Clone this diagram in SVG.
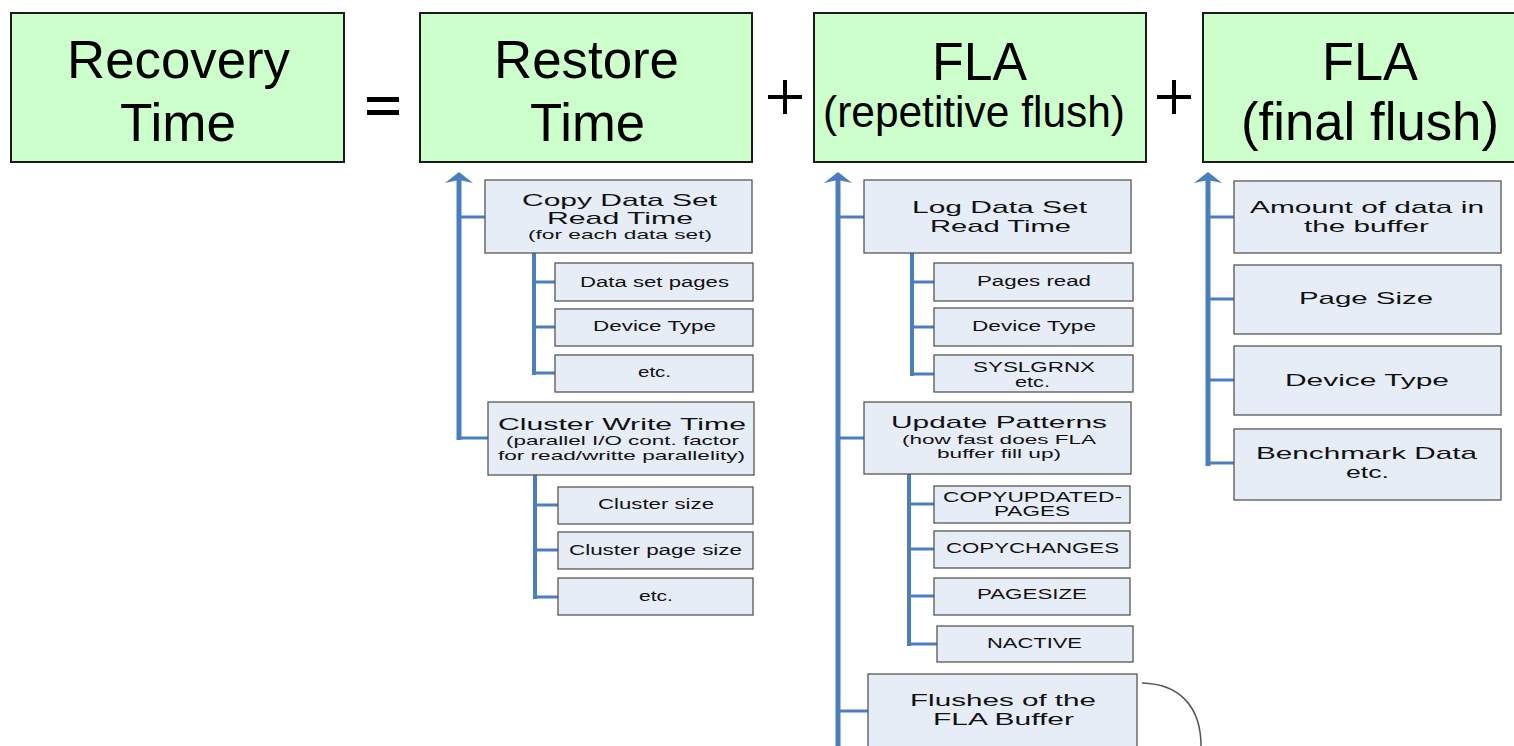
<svg xmlns="http://www.w3.org/2000/svg" width="1514" height="746" viewBox="0 0 1514 746">
<style>
text{font-family:"Liberation Sans",Arial,sans-serif;fill:#000}
.big{font-size:54px}
.mid{font-size:44px}
.h{font-size:17px;fill:#111}
.s{font-size:13px;fill:#111}
.t{font-size:14px;fill:#111}
.eq{fill:#000}
.top rect{fill:#ccffcc;stroke:#1a1a1a;stroke-width:2}
.box rect{fill:#e7edf7;stroke:#555;stroke-width:1.3}
.trunk{fill:none;stroke:#4a7ebf;stroke-width:5}
.br{fill:none;stroke:#4a7ebf;stroke-width:3}
.sub{fill:none;stroke:#4a7ebf;stroke-width:4}
.curve{fill:none;stroke:#555;stroke-width:1.5}
</style>
<defs>
<marker id="ah" markerUnits="userSpaceOnUse" viewBox="0 -14 11 28" markerWidth="11" markerHeight="28" refX="3" refY="0" orient="auto">
<path d="M11,0 L0,-14 L3,0 L0,14 Z" fill="#4a7ebf"/>
</marker>
</defs>
<rect width="1514" height="746" fill="#fff"/>

<g id="recovery" class="top">
<rect x="11" y="13" width="333" height="149"/>
<text class="big" x="67" y="78" textLength="223" lengthAdjust="spacingAndGlyphs">Recovery</text>
<text class="big" x="120" y="141" textLength="116" lengthAdjust="spacingAndGlyphs">Time</text>
</g>
<g id="equals" class="eq">
<rect x="367" y="97" width="32" height="5"/>
<rect x="367" y="110" width="32" height="5"/>
</g>
<g id="restore" class="top">
<rect x="420" y="13" width="332" height="149"/>
<text class="big" x="494" y="78" textLength="185" lengthAdjust="spacingAndGlyphs">Restore</text>
<text class="big" x="530" y="141" textLength="115" lengthAdjust="spacingAndGlyphs">Time</text>
</g>
<g id="plus1" class="eq">
<rect x="768" y="95" width="34" height="4"/>
<rect x="783" y="80" width="4" height="34"/>
</g>
<g id="fla-rep" class="top">
<rect x="814" y="13" width="332" height="149"/>
<text class="big" x="932" y="80" textLength="95" lengthAdjust="spacingAndGlyphs">FLA</text>
<text class="mid" x="823" y="127" textLength="302" lengthAdjust="spacingAndGlyphs">(repetitive flush)</text>
</g>
<g id="plus2" class="eq">
<rect x="1157" y="95" width="34" height="4"/>
<rect x="1172" y="80" width="4" height="34"/>
</g>
<g id="fla-final" class="top">
<rect x="1203" y="13" width="333" height="149"/>
<text class="big" x="1322" y="80" textLength="96" lengthAdjust="spacingAndGlyphs">FLA</text>
<text class="big" x="1241" y="140" textLength="258" lengthAdjust="spacingAndGlyphs">(final flush)</text>
</g>

<g id="connectors">
<path class="trunk" d="M459 440 V180" marker-end="url(#ah)"/>
<path class="br" d="M459 217 H485"/>
<path class="br" d="M457 438 H488"/>
<path class="sub" d="M534 253 V375"/>
<path class="br" d="M534 282 H555 M534 327 H555 M532 373 H555"/>
<path class="sub" d="M535 475 V599"/>
<path class="br" d="M535 505 H558 M535 550 H558 M533 597 H558"/>

<path class="trunk" d="M838 746 V180" marker-end="url(#ah)"/>
<path class="br" d="M838 217 H864 M838 438 H864 M838 711 H868"/>
<path class="sub" d="M912 253 V376"/>
<path class="br" d="M912 282 H934 M912 327 H934 M910 374 H934"/>
<path class="sub" d="M909 474 V646"/>
<path class="br" d="M909 504 H934 M909 549 H934 M909 596 H934 M907 644 H937"/>
<path class="curve" d="M1142 683 C1181 684,1201 708,1201 746"/>

<path class="trunk" d="M1208 466 V180" marker-end="url(#ah)"/>
<path class="br" d="M1208 217 H1234 M1208 299 H1234 M1208 380 H1234 M1206 463 H1234"/>
</g>

<g id="copy-read" class="box">
<rect x="485" y="180" width="267" height="73"/>
<text class="h" x="522" y="206" textLength="195" lengthAdjust="spacingAndGlyphs">Copy Data Set</text>
<text class="h" x="547" y="224" textLength="146" lengthAdjust="spacingAndGlyphs">Read Time</text>
<text class="s" x="528" y="239" textLength="184" lengthAdjust="spacingAndGlyphs">(for each data set)</text>
</g>
<g id="ds-pages" class="box">
<rect x="555" y="263" width="198" height="38"/>
<text class="t" x="580" y="287" textLength="149" lengthAdjust="spacingAndGlyphs">Data set pages</text>
</g>
<g id="ds-device" class="box">
<rect x="555" y="309" width="198" height="37"/>
<text class="t" x="593" y="331" textLength="123" lengthAdjust="spacingAndGlyphs">Device Type</text>
</g>
<g id="ds-etc" class="box">
<rect x="555" y="355" width="198" height="37"/>
<text class="t" x="638" y="377" textLength="33" lengthAdjust="spacingAndGlyphs">etc.</text>
</g>
<g id="cluster-write" class="box">
<rect x="488" y="402" width="266" height="73"/>
<text class="h" x="498" y="430" textLength="248" lengthAdjust="spacingAndGlyphs">Cluster Write Time</text>
<text class="s" x="506" y="445" textLength="233" lengthAdjust="spacingAndGlyphs">(parallel I/O cont. factor</text>
<text class="s" x="498" y="460" textLength="247" lengthAdjust="spacingAndGlyphs">for read/writte parallelity)</text>
</g>
<g id="cl-size" class="box">
<rect x="558" y="487" width="195" height="37"/>
<text class="t" x="598" y="509" textLength="116" lengthAdjust="spacingAndGlyphs">Cluster size</text>
</g>
<g id="cl-page" class="box">
<rect x="558" y="532" width="195" height="37"/>
<text class="t" x="569" y="555" textLength="173" lengthAdjust="spacingAndGlyphs">Cluster page size</text>
</g>
<g id="cl-etc" class="box">
<rect x="558" y="578" width="195" height="37"/>
<text class="t" x="639" y="601" textLength="34" lengthAdjust="spacingAndGlyphs">etc.</text>
</g>

<g id="log-read" class="box">
<rect x="864" y="180" width="267" height="73"/>
<text class="h" x="912" y="213" textLength="175" lengthAdjust="spacingAndGlyphs">Log Data Set</text>
<text class="h" x="930" y="232" textLength="141" lengthAdjust="spacingAndGlyphs">Read Time</text>
</g>
<g id="log-pages" class="box">
<rect x="934" y="263" width="199" height="38"/>
<text class="t" x="977" y="286" textLength="114" lengthAdjust="spacingAndGlyphs">Pages read</text>
</g>
<g id="log-device" class="box">
<rect x="934" y="308" width="199" height="38"/>
<text class="t" x="972" y="331" textLength="124" lengthAdjust="spacingAndGlyphs">Device Type</text>
</g>
<g id="log-syslgrnx" class="box">
<rect x="934" y="355" width="199" height="37"/>
<text class="t" x="973" y="372" textLength="122" lengthAdjust="spacingAndGlyphs">SYSLGRNX</text>
<text class="t" x="1015" y="387" textLength="35" lengthAdjust="spacingAndGlyphs">etc.</text>
</g>
<g id="update-patterns" class="box">
<rect x="864" y="402" width="267" height="72"/>
<text class="h" x="891" y="428" textLength="216" lengthAdjust="spacingAndGlyphs">Update Patterns</text>
<text class="s" x="902" y="444" textLength="194" lengthAdjust="spacingAndGlyphs">(how fast does FLA</text>
<text class="s" x="937" y="458" textLength="124" lengthAdjust="spacingAndGlyphs">buffer fill up)</text>
</g>
<g id="copyupdated" class="box">
<rect x="934" y="486" width="196" height="37"/>
<text class="t" x="943" y="502" textLength="179" lengthAdjust="spacingAndGlyphs">COPYUPDATED-</text>
<text class="t" x="994" y="516" textLength="76" lengthAdjust="spacingAndGlyphs">PAGES</text>
</g>
<g id="copychanges" class="box">
<rect x="934" y="531" width="196" height="37"/>
<text class="t" x="946" y="553" textLength="173" lengthAdjust="spacingAndGlyphs">COPYCHANGES</text>
</g>
<g id="pagesize" class="box">
<rect x="934" y="578" width="196" height="37"/>
<text class="t" x="977" y="599" textLength="110" lengthAdjust="spacingAndGlyphs">PAGESIZE</text>
</g>
<g id="nactive" class="box">
<rect x="937" y="626" width="196" height="36"/>
<text class="t" x="987" y="648" textLength="95" lengthAdjust="spacingAndGlyphs">NACTIVE</text>
</g>
<g id="flushes" class="box">
<rect x="868" y="674" width="269" height="80"/>
<text class="h" x="910" y="706" textLength="186" lengthAdjust="spacingAndGlyphs">Flushes of the</text>
<text class="h" x="933" y="725" textLength="141" lengthAdjust="spacingAndGlyphs">FLA Buffer</text>
</g>

<g id="amount" class="box">
<rect x="1234" y="181" width="267" height="72"/>
<text class="h" x="1250" y="213" textLength="234" lengthAdjust="spacingAndGlyphs">Amount of data in</text>
<text class="h" x="1304" y="232" textLength="125" lengthAdjust="spacingAndGlyphs">the buffer</text>
</g>
<g id="page-size" class="box">
<rect x="1234" y="265" width="267" height="69"/>
<text class="h" x="1299" y="304" textLength="134" lengthAdjust="spacingAndGlyphs">Page Size</text>
</g>
<g id="device-type" class="box">
<rect x="1234" y="346" width="267" height="69"/>
<text class="h" x="1285" y="386" textLength="164" lengthAdjust="spacingAndGlyphs">Device Type</text>
</g>
<g id="benchmark" class="box">
<rect x="1234" y="429" width="267" height="71"/>
<text class="h" x="1256" y="459" textLength="221" lengthAdjust="spacingAndGlyphs">Benchmark Data</text>
<text class="h" x="1346" y="478" textLength="43" lengthAdjust="spacingAndGlyphs">etc.</text>
</g>
</svg>
